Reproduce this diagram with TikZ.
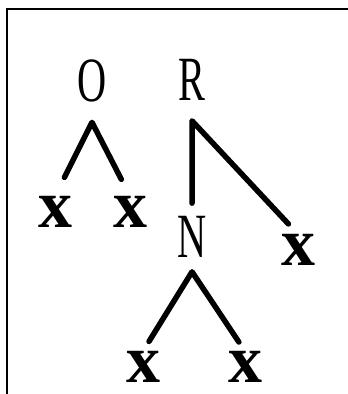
\documentclass[tikz,border=0pt]{standalone}
\usepackage{fontspec}
\setmainfont{Liberation Serif}
\usetikzlibrary{positioning}
\begin{document}
\begin{tikzpicture}[x=1pt,y=-1pt,
  capital/.style={font=\fontsize{63}{63}\selectfont,xscale=0.64,inner sep=0pt},
  var/.style={font=\fontsize{68}{68}\selectfont\bfseries,xscale=1.0,inner sep=0pt},
  branch/.style={line width=5.5pt,line cap=round,line join=round}]
\useasboundingbox (0,0) rectangle (348,394);
\draw[line width=2pt] (7,394) -- (7,8.5) -- (348,8.5);
% labels
\node[capital] (o) at (92,81) {O};
\node[capital] (r) at (192,80) {R};
\node[var] (ol) at (55,212) {x};
\node[var] (or) at (130,212) {x};
\node[capital] (n) at (192,237) {N};
\node[var] (rr) at (298,250) {x};
\node[var] (nl) at (143,367) {x};
\node[var] (nr) at (245,367) {x};
% apexes
\coordinate[below=20pt of o] (oap);
\coordinate[below=20pt of r] (rap);
\coordinate[below=14pt of n] (nap);
% branches
\draw[branch,shorten <=21pt,shorten >=19pt] (ol.north) -- (oap) -- (or.north);
\draw[branch,shorten <=13pt,shorten >=14pt] (n.north) -- (rap) -- (rr.north);
\draw[branch,shorten <=11.5pt,shorten >=11pt] (nl.north) -- (nap) -- (nr.north);
\end{tikzpicture}
\end{document}
